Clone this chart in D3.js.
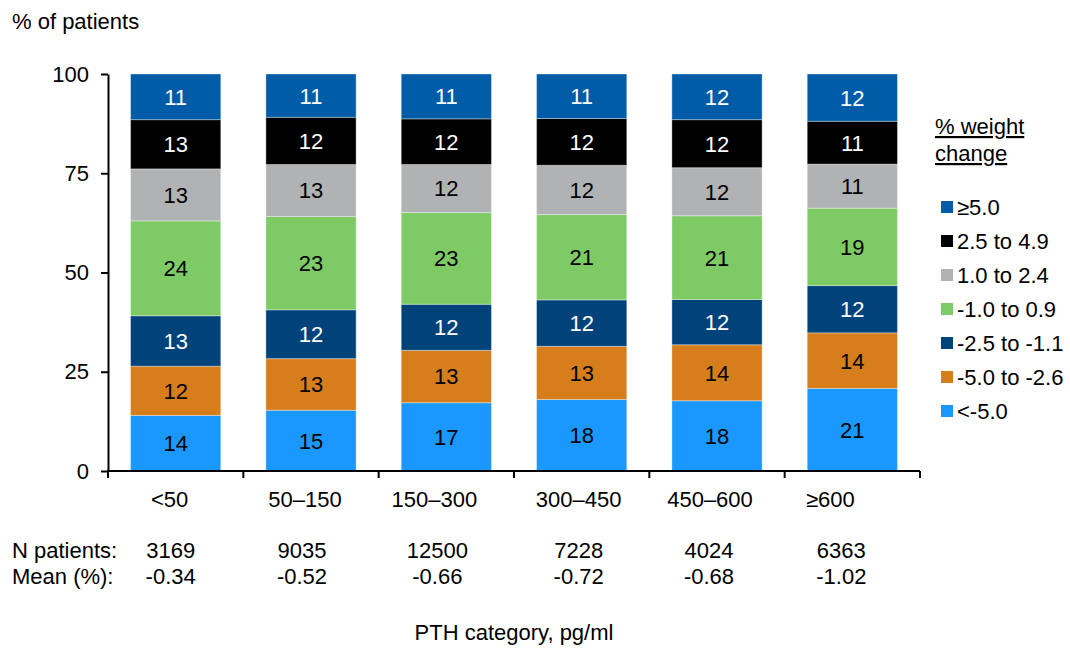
<!DOCTYPE html>
<html>
<head>
<meta charset="utf-8">
<script src="https://cdn.jsdelivr.net/npm/d3@7"></script>
<style>
  body { margin: 0; background: #fff; }
  svg text { font-family: "Liberation Sans", Arial, sans-serif; font-size: 22px; fill: #000; }
</style>
</head>
<body>
<div id="chart"></div>
<script>
// ---- data ----
const categories = ["<50", "50\u2013150", "150\u2013300", "300\u2013450", "450\u2013600", "\u2265600"];
const nPatients = ["3169", "9035", "12500", "7228", "4024", "6363"];
const meanChange = ["-0.34", "-0.52", "-0.66", "-0.72", "-0.68", "-1.02"];

// weight-change classes, bottom to top
const classNames = ["<-5.0", "-5.0 to -2.6", "-2.5 to -1.1", "-1.0 to 0.9", "1.0 to 2.4", "2.5 to 4.9", "\u22655.0"];

// bar heights (%)
const below5 = [14.0, 15.3, 17.2, 18.0, 17.7, 20.8];
const m50to26 = [12.4, 13.0, 13.2, 13.4, 14.1, 14.0];
const m25to11 = [12.7, 12.3, 11.6, 11.7, 11.4, 11.9];
const m10to09 = [23.9, 23.5, 23.1, 21.5, 21.1, 19.5];
const p10to24 = [13.1, 13.1, 12.1, 12.4, 12.1, 11.1];
const p25to49 = [12.4, 11.9, 11.5, 11.8, 12.1, 10.8];
const above5 = [11.5, 10.9, 11.3, 11.2, 11.5, 11.9];

// printed labels
const below5Lbl = [14, 15, 17, 18, 18, 21];
const m50to26Lbl = [12, 13, 13, 13, 14, 14];
const m25to11Lbl = [13, 12, 12, 12, 12, 12];
const m10to09Lbl = [24, 23, 23, 21, 21, 19];
const p10to24Lbl = [13, 13, 12, 12, 12, 11];
const p25to49Lbl = [13, 12, 12, 12, 12, 11];
const above5Lbl = [11, 11, 11, 11, 12, 12];

const yTicks = [0, 25, 50, 75, 100];

// ---- styles ----
const colors = ["#1a98fe", "#d57e1b", "#00437a", "#7ecb65", "#b1b2b4", "#000000", "#005ca7"];
const labelColors = ["#000", "#000", "#fff", "#000", "#000", "#fff", "#fff"];
// table text sits a little left of the bar centres in the original
const catNudge = [-6, -6, -12, -3, -7, -22];
const statNudge = [-5, -9, -9, -3, -8, -11];

const seriesVals = [below5, m50to26, m25to11, m10to09, p10to24, p25to49, above5];
const seriesLbls = [below5Lbl, m50to26Lbl, m25to11Lbl, m10to09Lbl, p10to24Lbl, p25to49Lbl, above5Lbl];

const width = 1070, height = 648;
const plotL = 108, plotR = 920, plotT = 74, plotB = 471;

const svg = d3.select("#chart").append("svg")
    .attr("width", width).attr("height", height);

// build rows for d3.stack
const rows = categories.map((c, i) => {
    const r = { cat: c };
    classNames.forEach((k, j) => { r[k] = seriesVals[j][i]; });
    return r;
});
const stacked = d3.stack().keys(classNames)(rows);

const x = d3.scaleBand().domain(categories).range([plotL, plotR])
    .paddingInner(1 / 3).paddingOuter(1 / 6);
const y = d3.scaleLinear().domain([0, 100]).range([plotB, plotT]);

// bars
const layer = svg.append("g").selectAll("g")
    .data(stacked).enter().append("g")
    .attr("fill", (d, j) => colors[j]);

layer.selectAll("rect")
    .data(d => d)
    .enter().append("rect")
    .attr("x", d => x(d.data.cat))
    .attr("width", x.bandwidth())
    .attr("y", d => y(d[1]))
    .attr("height", d => y(d[0]) - y(d[1]))
    .attr("stroke", "rgba(255,255,255,0.35)")
    .attr("stroke-width", 1);

// segment labels
stacked.forEach((s, j) => {
    svg.append("g").selectAll("text")
        .data(s).enter().append("text")
        .attr("x", d => x(d.data.cat) + x.bandwidth() / 2)
        .attr("y", d => y((d[0] + d[1]) / 2))
        .attr("dy", "0.36em")
        .attr("text-anchor", "middle")
        .style("fill", labelColors[j])
        .text((d, i) => seriesLbls[j][i]);
});

// y axis
const yAxis = svg.append("g")
    .attr("transform", `translate(${plotL},0)`)
    .call(d3.axisLeft(y).tickValues(yTicks).tickSize(7).tickSizeOuter(0).tickPadding(12));
yAxis.select(".domain").attr("stroke", "#000").attr("stroke-width", 2);
yAxis.selectAll(".tick line").attr("stroke", "#000").attr("stroke-width", 2);
yAxis.selectAll("text").style("font-size", "22px").attr("font-family", null);

// x axis line with ticks at band edges
const step = x.step();
const edges = categories.map(c => x(c) - (step - x.bandwidth()) / 2);
edges.push(edges[edges.length - 1] + step);
svg.append("line")
    .attr("x1", plotL - 1).attr("x2", plotR)
    .attr("y1", plotB).attr("y2", plotB)
    .attr("stroke", "#000").attr("stroke-width", 2);
svg.append("g").selectAll("line")
    .data(edges).enter().append("line")
    .attr("x1", d => d).attr("x2", d => d)
    .attr("y1", plotB).attr("y2", plotB + 7)
    .attr("stroke", "#000").attr("stroke-width", 2);

// category labels
svg.append("g").selectAll("text")
    .data(categories).enter().append("text")
    .attr("x", (d, i) => x(d) + x.bandwidth() / 2 + catNudge[i])
    .attr("y", 507)
    .attr("text-anchor", "middle")
    .text(d => d);

// N / mean table
svg.append("text").attr("x", 12).attr("y", 558).text("N patients:");
svg.append("text").attr("x", 12).attr("y", 584).text("Mean (%):");
svg.append("g").selectAll("text")
    .data(nPatients).enter().append("text")
    .attr("x", (d, i) => x(categories[i]) + x.bandwidth() / 2 + statNudge[i])
    .attr("y", 558)
    .attr("text-anchor", "middle")
    .text(d => d);
svg.append("g").selectAll("text")
    .data(meanChange).enter().append("text")
    .attr("x", (d, i) => x(categories[i]) + x.bandwidth() / 2 + statNudge[i])
    .attr("y", 584)
    .attr("text-anchor", "middle")
    .text(d => d);

// titles
svg.append("text").attr("x", 12).attr("y", 29).text("% of patients");
svg.append("text").attr("x", (plotL + plotR) / 2).attr("y", 640)
    .attr("text-anchor", "middle").text("PTH category, pg/ml");

// legend
const legend = svg.append("g");
legend.append("text").attr("x", 935).attr("y", 134)
    .style("text-decoration", "underline").text("% weight");
legend.append("text").attr("x", 935).attr("y", 161)
    .style("text-decoration", "underline").text("change");

const legendOrder = d3.range(classNames.length).reverse();
const li = legend.selectAll("g.item")
    .data(legendOrder).enter().append("g")
    .attr("class", "item")
    .attr("transform", (j, k) => `translate(941,${207 + k * 34})`);
li.append("rect")
    .attr("x", 0).attr("y", -6).attr("width", 12).attr("height", 12)
    .attr("fill", j => colors[j]);
li.append("text")
    .attr("x", 16).attr("dy", "0.36em")
    .text(j => classNames[j]);
</script>
</body>
</html>
